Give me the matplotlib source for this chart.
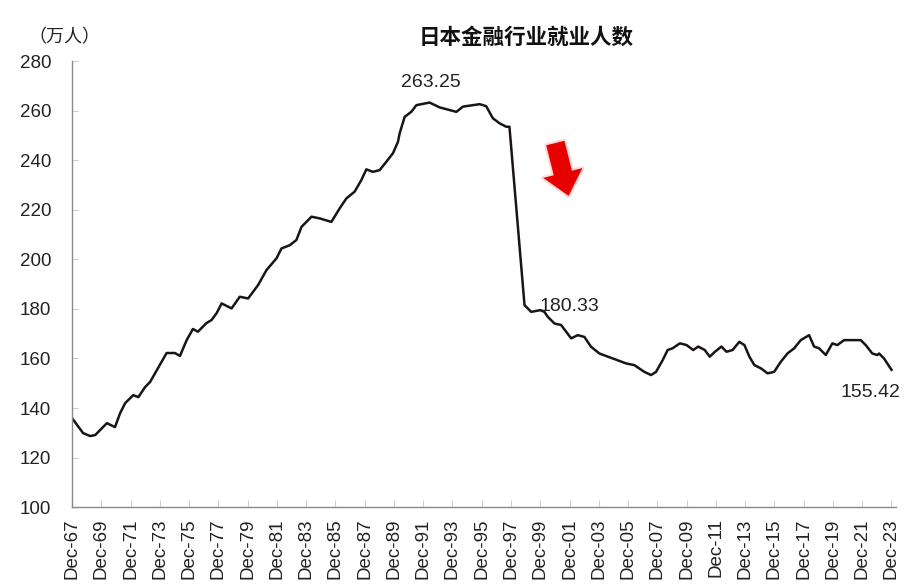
import numpy as np
import matplotlib
matplotlib.use("Agg")
import matplotlib.pyplot as plt

plt.rcParams["font.family"] = ["Liberation Sans", "Noto Sans CJK SC", "DejaVu Sans"]

# decimal year (Dec-67 = 1967.917) and employees (10k persons)
YEARS = [
    1967.92, 1968.67, 1969.15, 1969.50, 1969.83, 1970.30, 1970.85, 1971.20, 1971.55,
    1972.10, 1972.45, 1972.90, 1973.25, 1973.79, 1974.38, 1974.95, 1975.29, 1975.75,
    1976.18, 1976.52, 1977.11, 1977.45, 1977.80, 1978.14, 1978.82, 1979.38, 1979.95,
    1980.63, 1981.21, 1981.89, 1982.23, 1982.80, 1983.25, 1983.60, 1984.28, 1984.85,
    1985.64, 1986.21, 1986.67, 1987.23, 1987.69, 1988.03, 1988.48, 1988.94, 1989.40,
    1989.85, 1990.19, 1990.31, 1990.65, 1991.10, 1991.45, 1992.35, 1993.04, 1994.18,
    1994.63, 1995.77, 1996.22, 1996.68, 1997.13, 1997.59, 1997.81, 1998.84, 1999.30,
    1999.92, 2000.20, 2000.43, 2000.89, 2001.34, 2002.03, 2002.48, 2002.93, 2003.39,
    2003.96, 2004.87, 2005.78, 2006.35, 2007.03, 2007.49, 2007.83, 2008.28, 2008.62,
    2008.96, 2009.46, 2009.92, 2010.37, 2010.71, 2011.16, 2011.50, 2011.85, 2012.30,
    2012.64, 2013.06, 2013.52, 2013.87, 2014.21, 2014.55, 2015.00, 2015.45, 2015.90,
    2016.36, 2016.81, 2017.27, 2017.72, 2018.29, 2018.63, 2018.97, 2019.43, 2019.88,
    2020.22, 2020.68, 2021.25, 2021.82, 2022.16, 2022.61, 2022.95, 2023.07, 2023.41,
    2023.92,
]
VALUES = [
    135.9, 129.9, 128.7, 129.1, 131.1, 133.9, 132.3, 137.9, 142.0,
    145.2, 144.4, 148.4, 150.5, 156.1, 162.2, 162.2, 161.0, 167.4,
    171.9, 170.8, 174.3, 175.5, 178.3, 182.2, 180.2, 184.9, 184.2,
    189.6, 195.7, 200.4, 204.4, 205.7, 207.8, 213.1, 217.2, 216.5,
    215.1, 220.6, 224.6, 227.3, 232.0, 236.3, 235.3, 236.0, 239.4,
    242.8, 247.4, 250.9, 257.5, 259.5, 262.2, 263.25, 261.3, 259.5,
    261.6, 262.6, 261.8, 256.9, 254.9, 253.5, 253.5, 181.5, 178.8,
    179.5, 178.8, 176.8, 174.1, 173.5, 168.1, 169.4, 168.7, 164.7,
    162.0, 160.0, 158.0, 157.3, 154.6, 153.3, 154.6, 159.3, 163.4,
    164.1, 166.1, 165.4, 163.4, 164.8, 163.4, 160.7, 162.7, 164.8,
    162.7, 163.4, 166.7, 165.4, 160.7, 157.3, 156.0, 154.0, 154.6,
    158.7, 162.0, 164.1, 167.4, 169.4, 164.8, 164.1, 161.4, 166.1,
    165.4, 167.4, 167.4, 167.4, 165.4, 162.0, 161.4, 162.0, 160.0,
    155.42,
]

TICK_YEARS = [1967.917 + 2 * i for i in range(29)]
TICK_LABELS = [
    "Dec-67", "Dec-69", "Dec-71", "Dec-73", "Dec-75", "Dec-77", "Dec-79", "Dec-81",
    "Dec-83", "Dec-85", "Dec-87", "Dec-89", "Dec-91", "Dec-93", "Dec-95", "Dec-97",
    "Dec-99", "Dec-01", "Dec-03", "Dec-05", "Dec-07", "Dec-09", "Dec-11", "Dec-13",
    "Dec-15", "Dec-17", "Dec-19", "Dec-21", "Dec-23",
]

# labelled points: text, x, y
NOTES = [
    ("263.25", 1992.45, 271.5, "center"),
    ("180.33", 1999.85, 180.8, "left"),
    ("155.42", 2024.55, 146.4, "right"),
]

TEXT = "#222222"
AXIS = "#8a8a8a"

fig = plt.figure(figsize=(9.12, 5.87), dpi=100)
ax = fig.add_axes([0.079, 0.136, 0.903, 0.760])

ax.plot(YEARS, VALUES, color="#1a1414", linewidth=1.8, solid_joinstyle="round")

ax.set_xlim(1967.917, 2024.2)
ax.set_ylim(100, 280)
ax.set_yticks(np.arange(100, 281, 20))
ax.set_xticks(TICK_YEARS)
ax.set_xticklabels(TICK_LABELS, rotation=90)

for s in ["top", "right"]:
    ax.spines[s].set_visible(False)
for s in ["left", "bottom"]:
    ax.spines[s].set_color(AXIS)
    ax.spines[s].set_linewidth(1.0)

ax.tick_params(axis="y", direction="in", length=4, color="#cfcfcf", labelsize=13.5,
               labelcolor=TEXT, pad=15)
ax.tick_params(axis="x", direction="in", length=5, color="#cfcfcf", labelsize=13.5,
               labelcolor=TEXT, pad=8)

for txt, x, y, ha in NOTES:
    ax.text(x, y, txt, ha=ha, va="center", fontsize=14, color=TEXT)

# red arrow, with a faint glow underneath
ax.annotate("", xy=(2001.9, 224.5), xytext=(2000.9, 248.0),
            arrowprops=dict(arrowstyle="simple,head_length=1.7,head_width=2.9,tail_width=1.35",
                            color="#ffb3b3", lw=3, alpha=0.5))
ax.annotate("", xy=(2001.9, 224.5), xytext=(2000.9, 248.0),
            arrowprops=dict(arrowstyle="simple,head_length=1.7,head_width=2.9,tail_width=1.35",
                            color="#e60000", lw=0))

fig.text(526 / 912, 1 - 37 / 587, "日本金融行业就业人数", ha="center", va="center",
         fontsize=15.5, fontweight="bold", color="#111111",
         family=["Noto Sans CJK SC", "DejaVu Sans"])
fig.text(64 / 912, 1 - 37 / 587, "（万人）", ha="center", va="center",
         fontsize=13, color=TEXT, family=["Noto Sans CJK SC", "DejaVu Sans"])

fig.savefig("out.png", dpi=100)
plt.close(fig)
